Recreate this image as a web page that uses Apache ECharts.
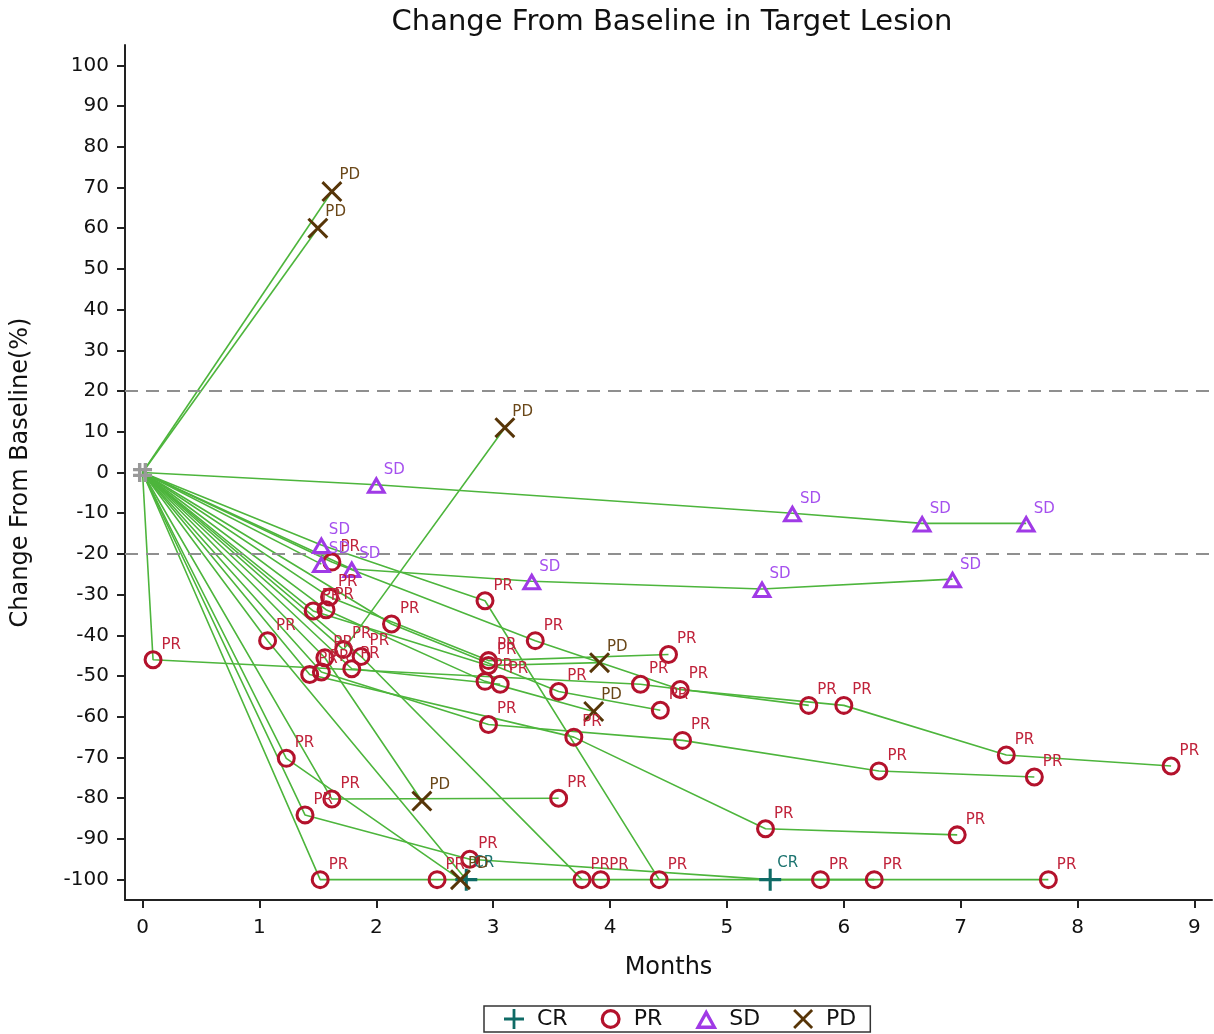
<!DOCTYPE html>
<html>
<head>
<meta charset="utf-8">
<title>Change From Baseline in Target Lesion</title>
<script src="https://cdn.jsdelivr.net/npm/echarts@6/dist/echarts.min.js"></script>
<style>
  html, body { margin: 0; padding: 0; background: #fff; }
  #chart { width: 1214px; height: 1034px; }
</style>
</head>
<body>
<div id="chart"></div>
<script>
// one row per patient; the baseline point (0, 0) is added in code
var months = [
  [1.62],
  [1.50],
  [2.00, 5.56, 6.67, 7.56],
  [1.72, 3.10],
  [1.79, 3.33, 5.30, 6.93],
  [1.53, 2.93, 4.42],
  [1.43, 3.69, 5.33, 6.97],
  [1.39, 2.80, 5.37, 6.26],
  [1.52, 2.52, 3.92, 5.80, 7.75],
  [1.23, 2.72],
  [1.62, 3.56],
  [1.56, 2.39],
  [1.62, 3.36, 4.60, 6.00, 7.39, 8.80],
  [1.60, 2.96, 4.50],
  [1.46, 2.96, 3.91],
  [1.57, 2.93, 3.86],
  [2.13, 3.56, 4.43],
  [1.07, 2.77],
  [1.87, 3.76],
  [1.79, 3.06],
  [1.53, 2.96, 4.62, 6.30, 7.63],
  [0.09, 4.26, 5.70],
  [1.53]
];
var change = [
  [69],
  [60],
  [-3, -10, -12.5, -12.5],
  [-43.5, 11],
  [-23.7, -26.7, -28.6, -26.2],
  [-17.8, -31.5, -100],
  [-49.6, -65, -87.5, -89],
  [-84.1, -95, -100, -100],
  [-100, -100, -100, -100, -100],
  [-70.2, -100],
  [-80.2, -80],
  [-45.5, -80.7],
  [-22, -41.3, -53.3, -57.2, -69.4, -72.1],
  [-30.6, -46.2, -44.7],
  [-34, -47.4, -46.7],
  [-33.7, -51.3, -58.7],
  [-37.2, -53.8, -58.4],
  [-41.3, -100],
  [-45.2, -100],
  [-48.2, -52],
  [-49, -61.9, -65.8, -73.3, -74.8],
  [-46, -52, -57.2],
  [-22.5]
];
var response = [
  ['PD'],
  ['PD'],
  ['SD', 'SD', 'SD', 'SD'],
  ['PR', 'PD'],
  ['SD', 'SD', 'SD', 'SD'],
  ['SD', 'PR', 'PR'],
  ['PR', 'PR', 'PR', 'PR'],
  ['PR', 'PR', 'CR', 'PR'],
  ['PR', 'PR', 'PR', 'PR', 'PR'],
  ['PR', 'PD'],
  ['PR', 'PR'],
  ['PR', 'PD'],
  ['PR', 'PR', 'PR', 'PR', 'PR', 'PR'],
  ['PR', 'PR', 'PR'],
  ['PR', 'PR', 'PD'],
  ['PR', 'PR', 'PD'],
  ['PR', 'PR', 'PR'],
  ['PR', 'CR'],
  ['PR', 'PR'],
  ['PR', 'PR'],
  ['PR', 'PR', 'PR', 'PR', 'PR'],
  ['PR', 'PR', 'PR'],
  ['SD']
];
var respNames = ['CR', 'PR', 'SD', 'PD'];
var xTicks = [0, 1, 2, 3, 4, 5, 6, 7, 8, 9];
var yTicks = [-100, -90, -80, -70, -60, -50, -40, -30, -20, -10, 0, 10, 20, 30, 40, 50, 60, 70, 80, 90, 100];
var refLines = [20, -20];

// marker looks
var looks = {
  CR: { symbol: 'path://M4.3,0H5.7V4.3H10V5.7H5.7V10H4.3V5.7H0V4.3H4.3Z', size: 22, color: '#0f6b66', label: '#1b736f' },
  PR: { symbol: 'path://M5,0A5,5 0 1,1 4.99,0Z M5,1.6A3.4,3.4 0 1,0 5.01,1.6Z', size: 19, color: '#b3122c', label: '#c0233b' },
  SD: { symbol: 'path://M5,0L10,9L0,9Z M5,3.09L2.55,7.5L7.45,7.5Z', size: [21, 18], color: '#a03ae6', label: '#a550ee' },
  PD: { symbol: 'path://M0,1L1,0L5,4L9,0L10,1L6,5L10,9L9,10L5,6L1,10L0,9L4,5Z', size: 21, color: '#573508', label: '#6a4718' }
};

var series = [];
var points = { CR: [], PR: [], SD: [], PD: [] };

for (var i = 0; i < months.length; i++) {
  var d = [[0, 0]];
  for (var j = 0; j < months[i].length; j++) {
    d.push([months[i][j], change[i][j]]);
    points[response[i][j]].push([months[i][j], change[i][j]]);
  }
  series.push({
    type: 'line',
    data: d,
    symbol: 'none',
    silent: true,
    z: 2,
    lineStyle: { color: '#4db53c', width: 1.6 }
  });
}

// baseline marker and the +/-20% reference lines
series.push({
  type: 'scatter',
  name: 'baseline',
  data: [[0, 0]],
  symbol: 'path://M2.6,0H4.4V10H2.6Z M5.6,0H7.4V10H5.6Z M0,2.6H10V4.4H0Z M0,5.6H10V7.4H0Z',
  symbolSize: 19,
  itemStyle: { color: '#999999', opacity: 1 },
  z: 4,
  markLine: {
    symbol: 'none',
    silent: true,
    label: { show: false },
    lineStyle: { color: '#8f8f8f', type: [13, 8], width: 2 },
    data: refLines.map(function (v) { return { yAxis: v }; })
  }
});

respNames.forEach(function (r) {
  var lk = looks[r];
  series.push({
    type: 'scatter',
    name: r,
    data: points[r],
    symbol: lk.symbol,
    symbolSize: lk.size,
    itemStyle: { color: lk.color, opacity: 1 },
    z: 5,
    label: {
      show: true,
      formatter: r,
      position: [18, -13],
      color: lk.label,
      fontSize: 15
    }
  });
});

var myChart = echarts.init(document.getElementById('chart'));
var option = {
  animation: false,
  textStyle: { fontFamily: 'DejaVu Sans' },
  title: {
    text: 'Change From Baseline in Target Lesion',
    left: 667,
    textAlign: 'center',
    top: 3,
    textStyle: { fontSize: 29, fontWeight: 'normal', color: '#111' }
  },
  grid: { left: 125, right: 2, top: 45, bottom: 134 },
  legend: {
    data: respNames,
    bottom: 2,
    left: 484,
    itemWidth: 22,
    itemHeight: 20,
    itemGap: 33,
    borderColor: '#333',
    borderWidth: 1.5,
    padding: [2, 14, 2, 20],
    textStyle: { fontSize: 22, color: '#111', padding: [0, 0, 0, 7] }
  },
  xAxis: {
    type: 'value',
    min: -0.15,
    max: 9.15,
    name: 'Months',
    nameLocation: 'middle',
    nameGap: 56,
    nameTextStyle: { fontSize: 24, color: '#111' },
    axisLine: { show: true, onZero: false, lineStyle: { color: '#222', width: 2 } },
    axisTick: { show: true, length: 8, customValues: xTicks, lineStyle: { color: '#222', width: 2 } },
    axisLabel: { customValues: xTicks, fontSize: 20, color: '#111', margin: 18 },
    splitLine: { show: false }
  },
  yAxis: {
    type: 'value',
    min: -105,
    max: 105,
    name: 'Change From Baseline(%)',
    nameLocation: 'middle',
    nameGap: 92,
    nameTextStyle: { fontSize: 24, color: '#111' },
    axisLine: { show: true, onZero: false, lineStyle: { color: '#222', width: 2 } },
    axisTick: { show: true, length: 8, customValues: yTicks, lineStyle: { color: '#222', width: 2 } },
    axisLabel: { customValues: yTicks, fontSize: 20, color: '#111', margin: 16 },
    splitLine: { show: false }
  },
  series: series
};
myChart.setOption(option);
</script>
</body>
</html>
